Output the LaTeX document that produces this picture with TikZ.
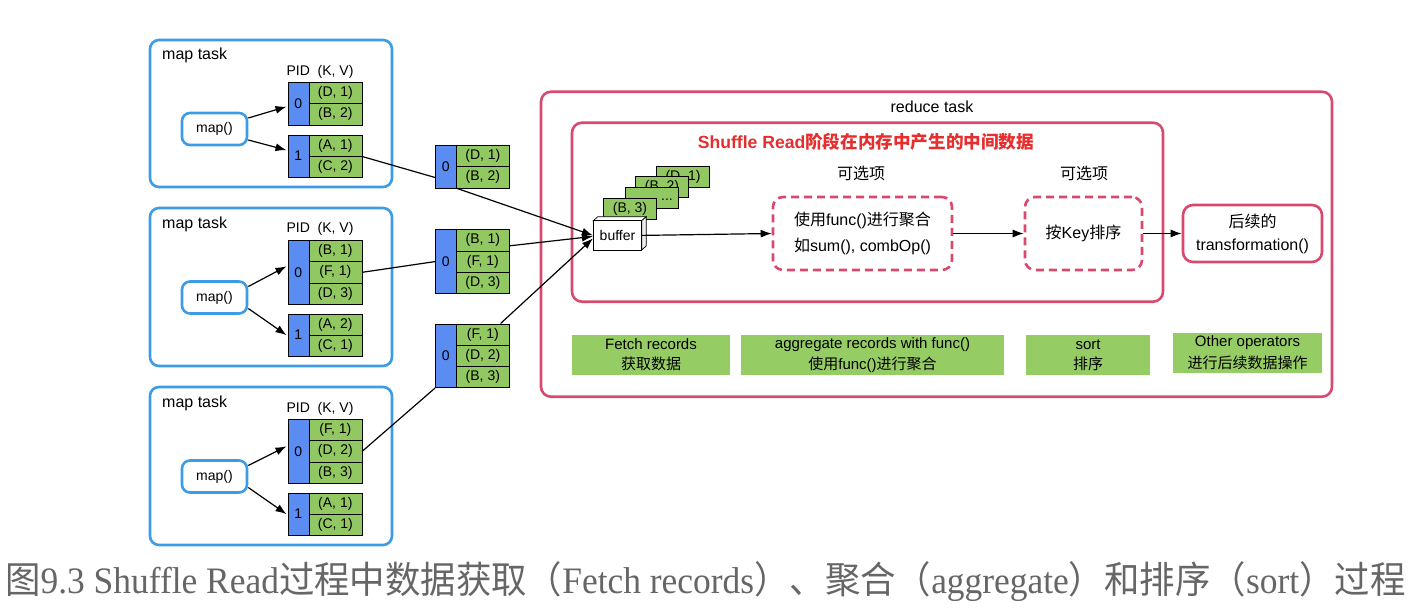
\documentclass[tikz,border=0pt]{standalone}
\usepackage{fontspec}
\setmainfont{Liberation Sans}
\newfontfamily\cjk{Noto Sans CJK SC}
\newfontfamily\capserif{Liberation Serif}
\usetikzlibrary{arrows.meta,calc}
\definecolor{mapblue}{HTML}{3D9CE6}
\definecolor{pidblue}{HTML}{5A8CF2}
\definecolor{kvgreen}{HTML}{92C862}
\definecolor{lblgreen}{HTML}{96CC64}
\definecolor{redpink}{HTML}{D64A6E}
\definecolor{titlered}{HTML}{E62E2E}
\definecolor{capgray}{HTML}{666666}
\newcommand\zh[1]{{\cjk #1}}
\newcommand\fsz[1]{\fontsize{#1}{#1}\selectfont}
\newcommand\pbtwo[6]{%
  \node[pidcell, minimum height=42.6pt] (#1) at (#2,#3) {#4};
  \node[kvcell] (#1a) at (#2+21,#3) {#5};
  \node[kvcell] (#1b) at (#2+21,#3+21.3) {#6};
}
\newcommand\pbthree[7]{%
  \node[pidcell, minimum height=63.9pt] (#1) at (#2,#3) {#4};
  \node[kvcell] (#1a) at (#2+21,#3) {#5};
  \node[kvcell] (#1b) at (#2+21,#3+21.3) {#6};
  \node[kvcell] (#1c) at (#2+21,#3+42.6) {#7};
}
\tikzset{
  maptask/.style={draw=mapblue, line width=2.6pt, rounded corners=9pt, inner sep=0pt},
  mapfn/.style={draw=mapblue, line width=2.6pt, rounded corners=8pt, minimum width=65pt, minimum height=32pt, inner sep=0pt, font=\fsz{14}},
  pidcell/.style={draw=black, line width=0.7pt, fill=pidblue, minimum width=21pt, inner sep=0pt, anchor=north west, font=\fsz{14}},
  kvcell/.style={draw=black, line width=0.7pt, fill=kvgreen, minimum width=53pt, minimum height=21.3pt, inner sep=0pt, anchor=north west, font=\fsz{14}},
  card/.style={draw=black, line width=0.7pt, fill=kvgreen, minimum width=53pt, minimum height=21pt, inner sep=0pt, font=\fsz{14}},
  flow/.style={line width=1.2pt, -{Latex[length=11pt,width=8pt]}},
  link/.style={line width=1.2pt},
  txt/.style={inner sep=0pt, font=\fsz{16}},
  small/.style={inner sep=0pt, font=\fsz{14}},
  redbox/.style={draw=redpink, line width=2.6pt, rounded corners=10pt, inner sep=0pt},
  dashbox/.style={draw=redpink, line width=2.6pt, rounded corners=10pt, dash pattern=on 8pt off 5pt, inner sep=0pt, align=center, font=\fsz{16}},
  lbl/.style={fill=lblgreen, inner sep=0pt, align=center, font=\fsz{15}},
}
\begin{document}
\begin{tikzpicture}[x=1pt,y=-1pt]
\useasboundingbox (0,0) rectangle (1418,613);
\fill[white] (0,0) rectangle (1418,613);

% ---------- map tasks ----------
\node[maptask, minimum width=242pt, minimum height=147pt] (mt1) at (271,113.5) {};
\node[maptask, minimum width=242pt, minimum height=158pt] (mt2) at (271,287) {};
\node[maptask, minimum width=242pt, minimum height=158pt] (mt3) at (271,466) {};
\node[txt, anchor=west] (mt1t) at (162,55) {map task};
\node[txt, anchor=west] (mt2t) at (162,224) {map task};
\node[txt, anchor=west] (mt3t) at (162,403) {map task};
\node[small] (mt1h) at (320,72) {PID\ \ (K, V)};
\node[small] (mt2h) at (320,229) {PID\ \ (K, V)};
\node[small] (mt3h) at (320,409) {PID\ \ (K, V)};

\node[mapfn] (map1) at (214.5,129) {map()};
\node[mapfn] (map2) at (214.5,297.5) {map()};
\node[mapfn] (map3) at (214.5,476.5) {map()};

\pbtwo{m1p0}{287.5}{82}{0}{(D, 1)}{(B, 2)}
\pbtwo{m1p1}{287.5}{134.5}{1}{(A, 1)}{(C, 2)}
\pbthree{m2p0}{287.5}{240}{0}{(B, 1)}{(F, 1)}{(D, 3)}
\pbtwo{m2p1}{287.5}{313.5}{1}{(A, 2)}{(C, 1)}
\pbthree{m3p0}{287.5}{419}{0}{(F, 1)}{(D, 2)}{(B, 3)}
\pbtwo{m3p1}{287.5}{492.5}{1}{(A, 1)}{(C, 1)}

\draw[flow] ($(map1.east)+(0,-11)$) -- ($(m1p0.west)+(-1,3)$);
\draw[flow] ($(map1.east)+(0,11)$) -- ($(m1p1.west)+(-1,-6)$);
\draw[flow] ($(map2.east)+(0,-11)$) -- ($(m2p0.west)+(-1,-6)$);
\draw[flow] ($(map2.east)+(0,11)$) -- ($(m2p1.west)+(-1,0)$);
\draw[flow] ($(map3.east)+(0,-11)$) -- ($(m3p0.west)+(-1,-5)$);
\draw[flow] ($(map3.east)+(0,11)$) -- ($(m3p1.west)+(-1,0)$);

% ---------- fetched blocks ----------
\pbtwo{ba}{435}{145}{0}{(D, 1)}{(B, 2)}
\pbthree{bb}{435}{229.3}{0}{(B, 1)}{(F, 1)}{(D, 3)}
\pbthree{bc}{435}{323.5}{0}{(F, 1)}{(D, 2)}{(B, 3)}

% ---------- reduce task ----------
\node[redbox, minimum width=791pt, minimum height=305pt] (rt) at (936.5,244.2) {};
\node[txt] (rtt) at (932,107) {reduce task};
\node[redbox, minimum width=591pt, minimum height=179pt] (sr) at (867.5,212.2) {};
\node[inner sep=0pt, font=\fsz{17.6}\bfseries, text=titlered] (srt) at (866,142) {Shuffle Read\zh{阶段在内存中产生的中间数据}};

% buffer stack
\node[card] (c4) at (683,176.5) {(D, 1)};
\node[card] (c3) at (662,187) {(B, 2)};
\node[card] (c2) at (651.5,198) {};
\node[small] (c2t) at (667,200) {...};
\node[card] (c1) at (630,208.5) {(B, 3)};
\draw[line width=0.7pt, fill=white] (593.3,220.7) -- ++(4.5,-4) -- ++(48.4,0) -- ++(-4.5,4) -- cycle;
\draw[line width=0.7pt, fill=white!92!black] (641.7,220.7) -- ++(4.5,-4) -- ++(0,29.3) -- ++(-4.5,4) -- cycle;
\node[draw=black, line width=0.7pt, fill=white, minimum width=48.4pt, minimum height=29.3pt, inner sep=0pt, font=\fsz{14}] (buf) at (617.5,235.4) {buffer};

\draw[link] (m1p1a.south east) -- ($(ba.south west)!0.25!(ba.north west)$);
\draw[flow] (ba.south east) -- ($(buf.west)+(0,0)$);
\draw[link] (m2p0b.east) -- (bb.west);
\draw[flow] ($(bba.east)!0.5!(bba.south east)$) -- ($(buf.west)+(0,1)$);
\draw[link] (m3p0b.east) -- (bc.south west);
\draw[flow] ($(bca.north west)!0.83!(bca.north east)$) -- ($(buf.west)+(0,3)$);

\node[txt] (opt1) at (861,173) {\zh{可选项}};
\node[txt] (opt2) at (1084,173) {\zh{可选项}};
\node[dashbox, minimum width=179pt, minimum height=73pt] (agg) at (862.5,233.5) {\zh{使用}func()\zh{进行聚合}\\[8pt]\zh{如}sum(), combOp()};
\node[dashbox, minimum width=117pt, minimum height=73pt] (srt2) at (1083.5,233.5) {\zh{按}Key\zh{排序}};
\node[redbox, minimum width=139pt, minimum height=57pt, align=center, font=\fsz{16}] (tf) at (1252.5,233.5) {\zh{后续的}\\[7pt]transformation()};

\draw[flow] (buf.east) -- (agg.west);
\draw[flow] (agg.east) -- (srt2.west);
\draw[flow] (srt2.east) -- (tf.west);

% bottom labels
\node[lbl, minimum width=158pt, minimum height=40pt] (l1) at (651,355) {Fetch records\\[5pt]\zh{获取数据}};
\node[lbl, minimum width=263pt, minimum height=40pt] (l2) at (872.5,355) {aggregate records with func()\\[5pt]\zh{使用}func()\zh{进行聚合}};
\node[lbl, minimum width=124pt, minimum height=40pt] (l3) at (1088,355) {sort\\[5pt]\zh{排序}};
\node[lbl, minimum width=149pt, minimum height=40pt] (l4) at (1247.5,353) {Other operators\\[5pt]\zh{进行后续数据操作}};

% caption
\node[inner sep=0pt, anchor=west] (cap) at (5,582) {\resizebox*{1400pt}{40pt}{\color{capgray}\capserif\zh{图}9.3 Shuffle Read\zh{过程中数据获取（}Fetch records\zh{）、聚合（}aggregate\zh{）和排序（}sort\zh{）过程}}};
\end{tikzpicture}
\end{document}
